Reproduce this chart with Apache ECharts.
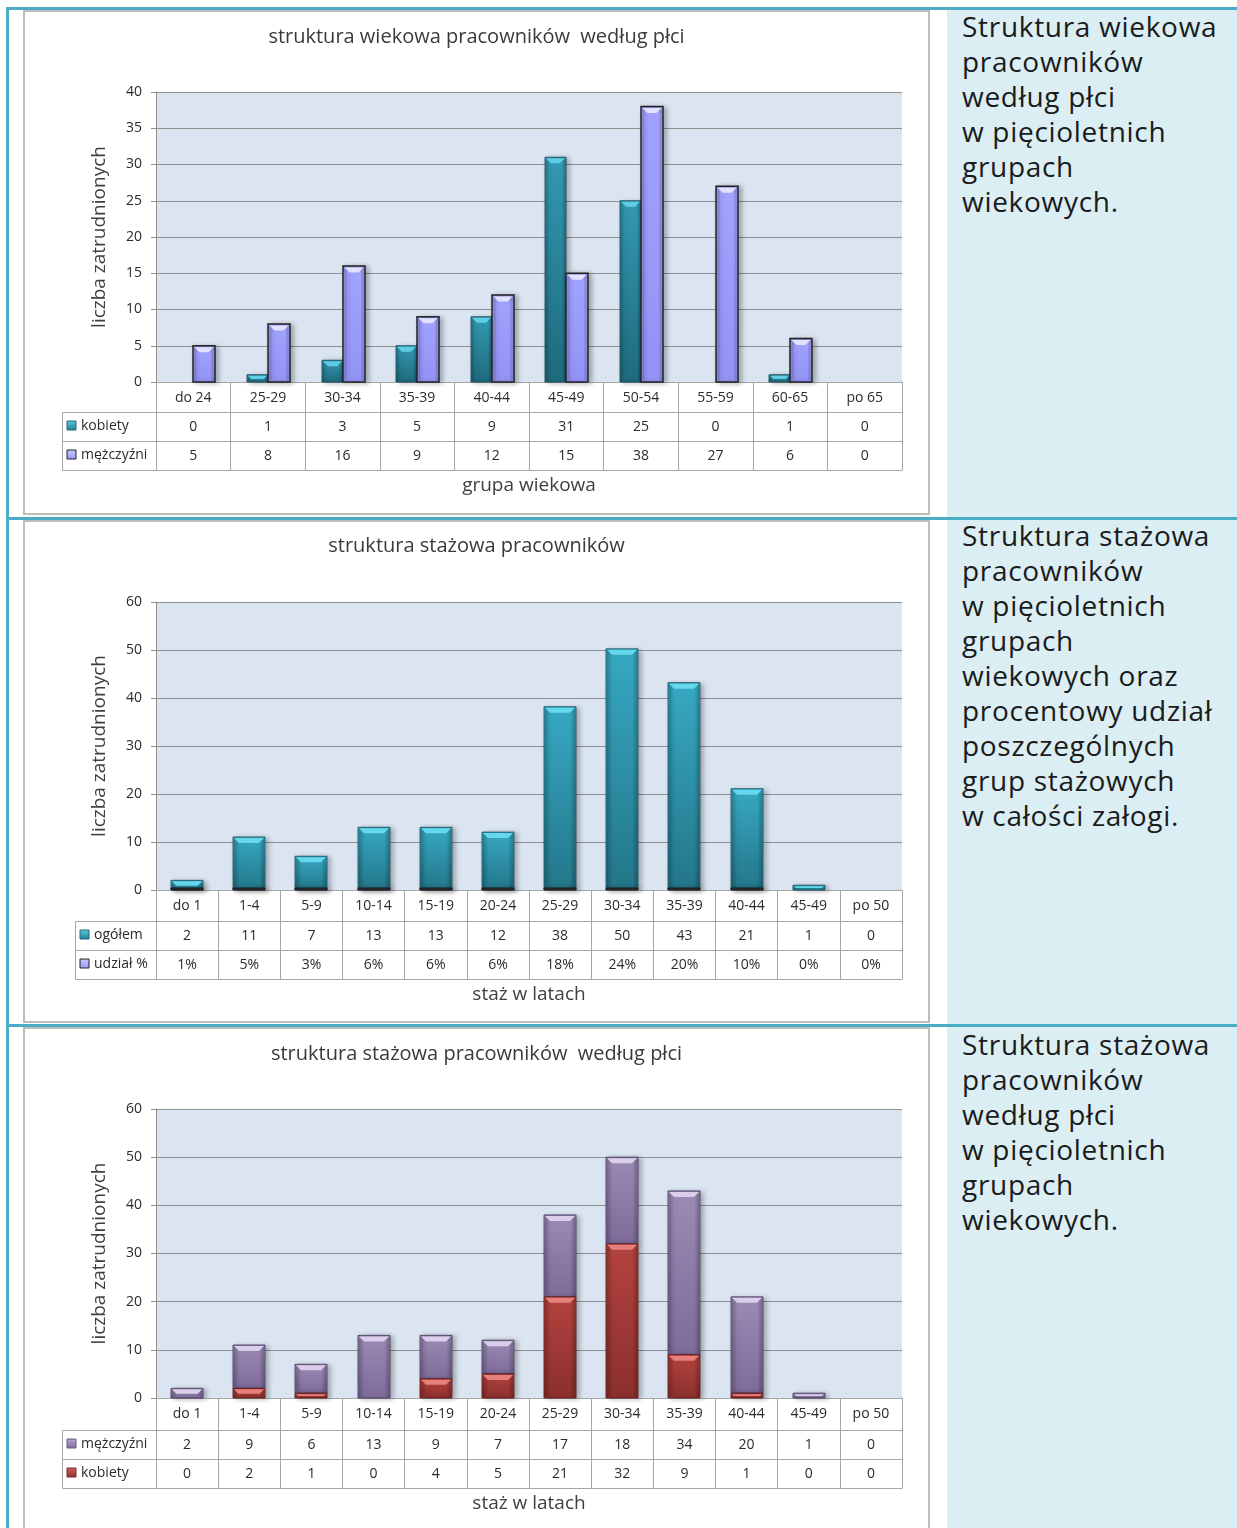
<!DOCTYPE html>
<html><head><meta charset="utf-8">
<script src="https://cdn.jsdelivr.net/npm/echarts@6/dist/echarts.min.js"></script>
<style>
html,body{margin:0;padding:0;background:#fff;}
body{position:relative;width:1237px;height:1528px;overflow:hidden;font-family:"Open Sans",sans-serif;}
.abs{position:absolute;}
.teal{background:#4BACC6;}
.cell{background:#DAEEF3;}
.frame{border:2px solid #bcbcbc;box-sizing:border-box;pointer-events:none;}
.txt{font-size:28px;line-height:35px;letter-spacing:0.7px;color:#1b1b1b;white-space:nowrap;font-family:"Open Sans",sans-serif;}
</style></head><body>
<div class="abs cell" style="left:947px;top:10px;width:290px;height:507px"></div>
<div class="abs cell" style="left:947px;top:520px;width:290px;height:504px"></div>
<div class="abs cell" style="left:947px;top:1027px;width:290px;height:501px"></div>
<div class="abs teal" style="left:6px;top:7px;width:1231px;height:3px"></div>
<div class="abs teal" style="left:6px;top:517px;width:1231px;height:3px"></div>
<div class="abs teal" style="left:6px;top:1024px;width:1231px;height:3px"></div>
<div class="abs teal" style="left:6px;top:7px;width:3px;height:1521px"></div>

<div id="c1" class="abs" style="left:23px;top:10px;width:907px;height:505px"></div>
<div id="c2" class="abs" style="left:23px;top:520px;width:907px;height:503px"></div>
<div id="c3" class="abs" style="left:23px;top:1027px;width:907px;height:520px"></div>
<div class="abs frame" style="left:23px;top:10px;width:907px;height:505px"></div>
<div class="abs frame" style="left:23px;top:520px;width:907px;height:503px"></div>
<div class="abs frame" style="left:23px;top:1027px;width:907px;height:520px"></div>

<div class="abs txt" style="left:962px;top:9px">Struktura wiekowa<br>pracowników<br>według płci<br>w pięcioletnich<br>grupach<br>wiekowych.</div>
<div class="abs txt" style="left:962px;top:518px">Struktura stażowa<br>pracowników<br>w pięcioletnich<br>grupach<br>wiekowych oraz<br>procentowy udział<br>poszczególnych<br>grup stażowych<br>w całości załogi.</div>
<div class="abs txt" style="left:962px;top:1027px">Struktura stażowa<br>pracowników<br>według płci<br>w pięcioletnich<br>grupach<br>wiekowych.</div>

<script>
// ---------- data ----------
const ageCats = ['do 24','25-29','30-34','35-39','40-44','45-49','50-54','55-59','60-65','po 65'];
const ageWomen = [0,1,3,5,9,31,25,0,1,0];
const ageMen = [5,8,16,9,12,15,38,27,6,0];
const ageYRange = [0, 40, 5];

const tenureCats = ['do 1','1-4','5-9','10-14','15-19','20-24','25-29','30-34','35-39','40-44','45-49','po 50'];
const tenureTotal = [2,11,7,13,13,12,38,50,43,21,1,0];
const tenureSharePct = [1,5,3,6,6,6,18,24,20,10,0,0];
const tenureMen = [2,9,6,13,9,7,17,18,34,20,1,0];
const tenureWomen = [0,2,1,0,4,5,21,32,9,1,0,0];
const tenureYRange = [0, 60, 10];

const titles = ['struktura wiekowa pracowników  według płci','struktura stażowa pracowników','struktura stażowa pracowników  według płci'];
const yName = 'liczba zatrudnionych';
const xNames = ['grupa wiekowa','staż w latach','staż w latach'];

// ---------- style ----------
const FONT = '"Open Sans", sans-serif';
const TXT = '#2b2b2b';
const GRIDC = '#8f8f8f';
const TABC = '#a6a6a6';
const G = echarts.graphic;

const styles = {
  teal: {top:'#3399B2', bottom:'#1E6A7C', bevelColor:'#5CCDE4', stroke:'rgba(20,70,85,0.85)', lw:1, key:['#5CCDE4','#237A8E'], keyStroke:'#1E6A7C'},
  lav: {top:'#A2A2FF', bottom:'#9393F6', bevelColor:'#E2E2FF', stroke:'#222222', lw:1.5, key:['#C8C8FF','#9999FF'], keyStroke:'#222'},
  teal2: {top:'#37A9C3', bottom:'#237689', bevelColor:'#66D8EE', stroke:'rgba(20,75,90,0.8)', lw:1, key:['#5CCDE4','#237A8E'], keyStroke:'#1E6A7C'},
  share: {top:'#3a3a4a', bottom:'#222230', bevelColor:null, stroke:'#1a1a1a', lw:1, key:['#C8C8FF','#9999FF'], keyStroke:'#222', minH:2},
  purp: {top:'#9C8BB5', bottom:'#7E6B99', bevelColor:'#DACFEA', stroke:'rgba(70,55,95,0.85)', lw:1, key:['#B9A9D0','#7E6B99'], keyStroke:'#6a5a85'},
  red: {top:'#B4433F', bottom:'#8B2F2D', bevelColor:'#E6807B', stroke:'rgba(95,25,25,0.85)', lw:1, key:['#D0605C','#8B2F2D'], keyStroke:'#7a2a28'}
};

function make3d(name, values, bases, st, slot, n, w, z) {
  return {
    type: 'custom', name: name, xAxisIndex: 0, yAxisIndex: 0, z: z || 2,
    data: values.map((v, i) => [i, v, bases ? bases[i] : 0]),
    encode: { x: 0, y: 1 },
    renderItem: function (params, api) {
      const i = api.value(0), v = api.value(1), b = api.value(2);
      if (!(v > 0)) return null;
      const p0 = api.coord([i, b]), p1 = api.coord([i, b + v]);
      const x = Math.round(p0[0] - n * w / 2 + slot * w);
      let yB = p0[1], yT = p1[1], h = yB - yT;
      if (st.minH && h < st.minH) { yT = yB - st.minH; h = st.minH; }
      const kids = [{
        type: 'rect', shape: { x: x, y: yT, width: w, height: h },
        style: {
          fill: new G.LinearGradient(0, 0, 0, 1, [{offset: 0, color: st.top}, {offset: 1, color: st.bottom}]),
          stroke: st.stroke, lineWidth: st.lw,
          shadowBlur: 5, shadowOffsetX: 3, shadowOffsetY: 1, shadowColor: 'rgba(0,0,0,0.28)'
        }
      }];
      if (st.bevelColor && h > 2) {
        const ins = st.lw;
        kids.push({
          type: 'rect', silent: true,
          shape: { x: x + ins, y: yT + ins, width: w - 2 * ins, height: Math.max(h - 2 * ins, 0) },
          style: { fill: new G.LinearGradient(0, 0, 1, 0, [
            {offset: 0, color: 'rgba(0,0,0,0.20)'}, {offset: 0.16, color: 'rgba(0,0,0,0)'},
            {offset: 0.84, color: 'rgba(0,0,0,0)'}, {offset: 1, color: 'rgba(0,0,0,0.22)'}]) }
        });
        const bv = Math.min(5, (h - ins) / 2, w / 2 - 2);
        kids.push({
          type: 'polygon', silent: true,
          shape: { points: [[x + ins, yT + ins], [x + w - ins, yT + ins], [x + w - ins - bv, yT + ins + bv], [x + ins + bv, yT + ins + bv]] },
          style: { fill: st.bevelColor }
        });
      }
      return { type: 'group', children: kids };
    }
  };
}

function buildOption(c) {
  const gl = 133, gw = 746;
  const offs = c.offs;
  const lab = { fontFamily: FONT, fontSize: 14, color: TXT };
  const xAxes = [{
    type: 'category', data: c.cats, position: 'bottom', offset: 0,
    axisLine: { show: true, lineStyle: { color: TABC } },
    axisTick: { show: true, interval: 0, alignWithLabel: false, length: offs[3], lineStyle: { color: TABC } },
    axisLabel: Object.assign({ interval: 0, margin: 9 }, lab),
    splitLine: { show: false }
  }];
  c.rows.forEach((r, k) => {
    xAxes.push({
      type: 'category', data: c.cats, position: 'bottom', offset: offs[k + 1],
      axisLine: { show: true, lineStyle: { color: TABC } }, axisTick: { show: false },
      axisLabel: Object.assign({ interval: 0, margin: 8, formatter: (v, idx) => r.fmt(r.values[idx]) }, lab),
      splitLine: { show: false }
    });
  });
  xAxes.push({
    type: 'category', data: c.cats, position: 'bottom', offset: offs[3],
    axisLine: { show: true, lineStyle: { color: TABC } }, axisTick: { show: false }, axisLabel: { show: false },
    name: c.xName, nameLocation: 'middle', nameGap: c.xNameGap,
    nameTextStyle: { fontFamily: FONT, fontSize: 19, color: '#3f3f3f' }
  });
  const graphics = [];
  const yBase = c.gridTop + c.gridH;
  c.rows.forEach((r, k) => {
    const top = yBase + offs[k + 1], bot = yBase + offs[k + 2];
    const cy = (top + bot) / 2;
    graphics.push({ type: 'rect', z: 10, shape: { x: c.colLeft + 0.5, y: top + 0.5, width: gl - c.colLeft, height: bot - top }, style: { fill: 'rgba(0,0,0,0)', stroke: TABC, lineWidth: 1 } });
    graphics.push({ type: 'rect', z: 11, shape: { x: c.colLeft + 5, y: Math.round(cy - 6), width: 9, height: 9 },
      style: { fill: new G.LinearGradient(0, 0, 0, 1, [{offset: 0, color: r.st.key[0]}, {offset: 1, color: r.st.key[1]}]), stroke: r.st.keyStroke, lineWidth: 1 } });
    graphics.push({ type: 'text', z: 11, x: c.colLeft + 19, y: cy,
      style: { text: r.label, fontFamily: FONT, fontSize: 14, fill: TXT, verticalAlign: 'middle', align: 'left' } });
  });
  return {
    animation: false,
    title: { text: c.title, left: 'center', top: c.titleTop, textStyle: { fontFamily: FONT, fontSize: 20, fontWeight: 'normal', color: '#3a3a3a' } },
    grid: { left: gl, top: c.gridTop, width: gw, height: c.gridH, show: true, backgroundColor: '#DBE5F1', borderWidth: 0 },
    xAxis: xAxes,
    yAxis: {
      type: 'value', min: c.yRange[0], max: c.yRange[1], interval: c.yRange[2],
      axisLine: { show: true, lineStyle: { color: GRIDC } },
      axisTick: { show: true, length: 5, lineStyle: { color: GRIDC } },
      axisLabel: Object.assign({ margin: 14 }, lab),
      splitLine: { show: true, lineStyle: { color: GRIDC, width: 1 } },
      name: yName, nameLocation: 'middle', nameRotate: 90, nameGap: 47,
      nameTextStyle: { fontFamily: FONT, fontSize: 19, color: '#3f3f3f' }
    },
    series: c.series,
    graphic: graphics
  };
}

const num = v => String(v);
const pct = v => v + '%';

// chart 1
echarts.init(document.getElementById('c1'), null, { renderer: 'canvas' }).setOption(buildOption({
  title: titles[0], titleTop: 12, cats: ageCats, yRange: ageYRange, xName: xNames[0], xNameGap: 6,
  gridTop: 82, gridH: 290, offs: [0, 30, 59, 88], colLeft: 39,
  rows: [
    { label: 'kobiety', values: ageWomen, fmt: num, st: styles.teal },
    { label: 'mężczyźni', values: ageMen, fmt: num, st: styles.lav }
  ],
  series: [
    make3d('kobiety', ageWomen, null, styles.teal, 0, 2, 21, 2),
    make3d('mężczyźni', ageMen, null, styles.lav, 1, 2, 22, 3)
  ]
}));

// chart 2
const shareFrac = tenureSharePct.map(p => p / 100);
echarts.init(document.getElementById('c2'), null, { renderer: 'canvas' }).setOption(buildOption({
  title: titles[1], titleTop: 11, cats: tenureCats, yRange: tenureYRange, xName: xNames[1], xNameGap: 6,
  gridTop: 82, gridH: 288, offs: [0, 31, 60, 89], colLeft: 52,
  rows: [
    { label: 'ogółem', values: tenureTotal, fmt: num, st: styles.teal2 },
    { label: 'udział %', values: tenureSharePct, fmt: pct, st: styles.share }
  ],
  series: [
    make3d('ogółem', tenureTotal, shareFrac, styles.teal2, 0, 1, 32, 2),
    make3d('udział %', shareFrac, null, styles.share, 0, 1, 32, 3)
  ]
}));

// chart 3
echarts.init(document.getElementById('c3'), null, { renderer: 'canvas' }).setOption(buildOption({
  title: titles[2], titleTop: 12, cats: tenureCats, yRange: tenureYRange, xName: xNames[2], xNameGap: 6,
  gridTop: 82, gridH: 289, offs: [0, 32, 61, 90], colLeft: 39,
  rows: [
    { label: 'mężczyźni', values: tenureMen, fmt: num, st: styles.purp },
    { label: 'kobiety', values: tenureWomen, fmt: num, st: styles.red }
  ],
  series: [
    make3d('kobiety', tenureWomen, null, styles.red, 0, 1, 32, 3),
    make3d('mężczyźni', tenureMen, tenureWomen, styles.purp, 0, 1, 32, 2)
  ]
}));
</script>
</body></html>
